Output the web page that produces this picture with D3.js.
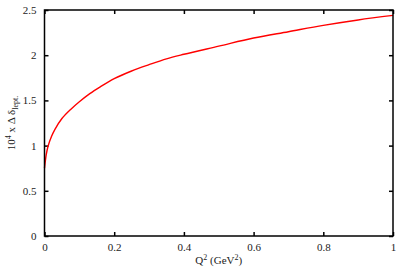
<!DOCTYPE html>
<html>
<head>
<meta charset="utf-8">
<script src="https://cdn.jsdelivr.net/npm/d3@7"></script>
<style>
body { margin: 0; background: #fff; }
svg text { font-family: "Liberation Serif", "DejaVu Serif", serif; }
</style>
</head>
<body>
<script>
var q2 = [0, 0.005, 0.01, 0.02, 0.03, 0.05, 0.075, 0.1, 0.13, 0.16, 0.2, 0.25, 0.3, 0.35, 0.4, 0.5, 0.6, 0.7, 0.8, 0.9, 1.0];
var delta = [0.75, 0.9, 0.99, 1.1, 1.18, 1.3, 1.40, 1.485, 1.575, 1.65, 1.74, 1.825, 1.895, 1.96, 2.01, 2.10, 2.19, 2.26, 2.33, 2.39, 2.44];
var xTicks = [0, 0.2, 0.4, 0.6, 0.8, 1];
var yTicks = [0, 0.5, 1, 1.5, 2, 2.5];

var W = 409, H = 273;
var margin = {top: 10, right: 16, bottom: 37, left: 44.5};
var width = W - margin.left - margin.right;
var height = H - margin.top - margin.bottom;

var x = d3.scaleLinear().domain([0, 1]).range([0, width]);
var y = d3.scaleLinear().domain([0, 2.5]).range([height, 0]);

var svg = d3.select("body").append("svg")
	.attr("width", W)
	.attr("height", H);
var g = svg.append("g")
	.attr("transform", "translate(" + margin.left + "," + margin.top + ")");

var fmt = (d) => { return d3.format("")(d); };

// bottom & left axes with inward ticks
g.append("g")
	.attr("transform", "translate(0," + height + ")")
	.call(d3.axisBottom(x).tickValues(xTicks).tickSize(-4).tickPadding(7).tickFormat(fmt))
	.call((a) => { a.select(".domain").remove(); });
g.append("g")
	.call(d3.axisLeft(y).tickValues(yTicks).tickSize(-4).tickPadding(8).tickFormat(fmt))
	.call((a) => { a.select(".domain").remove(); });
// mirror ticks on top & right
g.append("g")
	.call(d3.axisTop(x).tickValues(xTicks).tickSize(-4).tickFormat(""))
	.call((a) => { a.select(".domain").remove(); });
g.append("g")
	.attr("transform", "translate(" + width + ",0)")
	.call(d3.axisRight(y).tickValues(yTicks).tickSize(-4).tickFormat(""))
	.call((a) => { a.select(".domain").remove(); });

g.selectAll(".tick line").attr("stroke", "#000").attr("stroke-width", 1.5);
g.selectAll(".tick text").attr("font-size", "11px").attr("fill", "#222")
	.style("font-family", "Liberation Serif");

var line = d3.line()
	.x((d, i) => { return x(q2[i]); })
	.y((d) => { return y(d); })
	.curve(d3.curveCatmullRom.alpha(0.5));

g.append("path")
	.datum(delta)
	.attr("d", line)
	.attr("fill", "none")
	.attr("stroke", "#ff0000")
	.attr("stroke-width", 1.4);

g.append("rect")
	.attr("width", width)
	.attr("height", height)
	.attr("fill", "none")
	.attr("stroke", "#000")
	.attr("stroke-width", 1.5);

// axis labels
var xl = g.append("text")
	.attr("x", width / 2)
	.attr("y", height + 28)
	.attr("text-anchor", "middle")
	.attr("font-size", "11px")
	.attr("fill", "#222");
xl.append("tspan").text("Q");
xl.append("tspan").attr("font-size", "8px").attr("dy", -4).text("2");
xl.append("tspan").attr("dy", 4).text(" (GeV");
xl.append("tspan").attr("font-size", "8px").attr("dy", -4).text("2");
xl.append("tspan").attr("dy", 4).text(")");

var yl = g.append("text")
	.attr("transform", "rotate(-90)")
	.attr("x", -height / 2)
	.attr("y", -30)
	.attr("text-anchor", "middle")
	.attr("font-size", "11px")
	.attr("fill", "#222");
yl.append("tspan").text("10");
yl.append("tspan").attr("font-size", "8px").attr("dy", -4).text("4");
yl.append("tspan").attr("dy", 4).text(" x Δ δ");
yl.append("tspan").attr("font-size", "8px").attr("dy", 3).text("lept.");
</script>
</body>
</html>
